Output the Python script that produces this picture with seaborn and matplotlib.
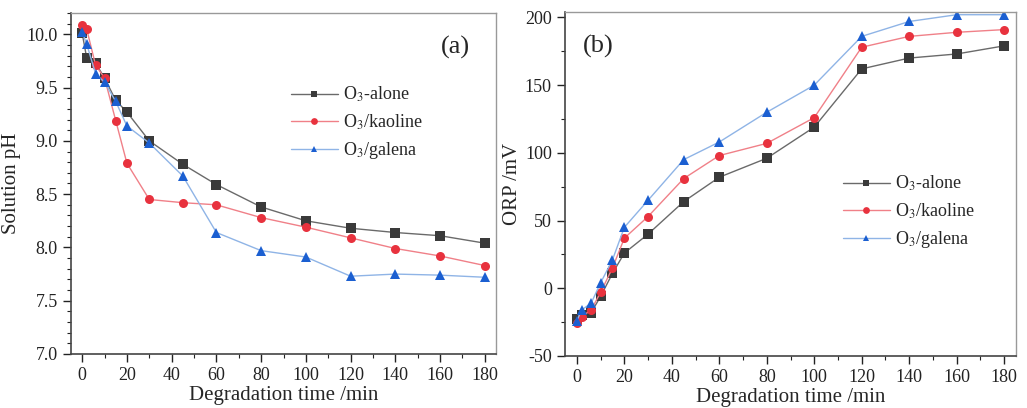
import numpy as np
import pandas as pd
import matplotlib
matplotlib.use('Agg')
import matplotlib.pyplot as plt
import seaborn as sns
from matplotlib.ticker import MultipleLocator, FormatStrFormatter

# Degradation time (min)
time_min = [0, 2, 6, 10, 15, 20, 30, 45, 60, 80, 100, 120, 140, 160, 180]

# (a) solution pH
ph_alone = [10.01, 9.78, 9.73, 9.59, 9.38, 9.27, 9.00, 8.78, 8.59, 8.38, 8.25, 8.18, 8.14, 8.11, 8.04]
ph_kaoline = [10.09, 10.05, 9.71, 9.59, 9.19, 8.79, 8.45, 8.42, 8.40, 8.28, 8.19, 8.09, 7.99, 7.92, 7.83]
ph_galena = [10.02, 9.91, 9.63, 9.55, 9.37, 9.14, 8.98, 8.67, 8.14, 7.97, 7.91, 7.73, 7.75, 7.74, 7.72]

# (b) ORP (mV)
orp_alone = [-23, -20, -18, -6, 11, 26, 40, 64, 82, 96, 119, 162, 170, 173, 179]
orp_kaoline = [-26, -21, -16, -3, 15, 37, 53, 81, 98, 107, 126, 178, 186, 189, 191]
orp_galena = [-24, -16, -11, 4, 21, 45, 65, 95, 108, 130, 150, 186, 197, 202, 202]

series_labels = ['O$_3$-alone', 'O$_3$/kaoline', 'O$_3$/galena']

sns.set_style('ticks')
plt.rcParams['font.family'] = ['Liberation Serif', 'DejaVu Serif']
plt.rcParams['mathtext.fontset'] = 'stix'
plt.rcParams['axes.unicode_minus'] = False

styles = [
    dict(marker='s', line='#6a6a6a', face='#3a3a3a'),
    dict(marker='o', line='#f08088', face='#e8323e'),
    dict(marker='^', line='#8fb4e6', face='#1b5fd1'),
]

fig = plt.figure(figsize=(10.27, 4.08), dpi=100)
ax1 = fig.add_axes([71 / 1027, 54 / 408, 425 / 1027, 341 / 408])
ax2 = fig.add_axes([565 / 1027, 52 / 408, 451 / 1027, 344 / 408])


def draw(ax, ys):
    for y, lab, st in zip(ys, series_labels, styles):
        sns.lineplot(x=time_min, y=y, ax=ax, color=st['line'], linewidth=1.0,
                     marker=st['marker'], markersize=6.5, markerfacecolor=st['face'],
                     markeredgewidth=0, label=lab)


draw(ax1, [ph_alone, ph_kaoline, ph_galena])
draw(ax2, [orp_alone, orp_kaoline, orp_galena])

for ax in (ax1, ax2):
    ax.set_xlim(-5, 185)
    ax.xaxis.set_major_locator(MultipleLocator(20))
    ax.xaxis.set_minor_locator(MultipleLocator(10))
    ax.tick_params(which='major', direction='out', length=6, width=1, labelsize=13, colors='#222222')
    ax.tick_params(which='minor', direction='out', length=3, width=0.8, colors='#222222')
    ax.set_xlabel('Degradation time /min', fontsize=15, labelpad=1)
    for s in ('left', 'bottom'):
        ax.spines[s].set_color('#444444')
        ax.spines[s].set_linewidth(1.2)
    for s in ('top', 'right'):
        ax.spines[s].set_visible(True)
        ax.spines[s].set_color('#999999')
        ax.spines[s].set_linewidth(1.0)

ax1.set_ylim(7.0, 10.2)
ax1.yaxis.set_major_locator(MultipleLocator(0.5))
ax1.yaxis.set_minor_locator(MultipleLocator(0.1))
ax1.yaxis.set_major_formatter(FormatStrFormatter('%.1f'))
ax1.set_ylabel('Solution pH', fontsize=15, labelpad=4)
ax1.text(0.94, 0.90, '(a)', transform=ax1.transAxes, fontsize=19, ha='right', va='center')
ax1.legend(loc='upper left', bbox_to_anchor=(0.5, 0.81), frameon=False, fontsize=13,
           handlelength=2.6, labelspacing=0.45, handletextpad=0.3, borderaxespad=0,
           markerscale=0.75)

ax2.set_ylim(-50, 204)
ax2.yaxis.set_major_locator(MultipleLocator(50))
ax2.yaxis.set_minor_locator(MultipleLocator(25))
ax2.set_ylabel('ORP /mV', fontsize=15, labelpad=2)
ax2.text(0.04, 0.90, '(b)', transform=ax2.transAxes, fontsize=19, ha='left', va='center')
ax2.legend(loc='upper left', bbox_to_anchor=(0.60, 0.55), frameon=False, fontsize=13,
           handlelength=2.6, labelspacing=0.45, handletextpad=0.3, borderaxespad=0,
           markerscale=0.75)

plt.savefig('out.png', dpi=100)
plt.close('all')
